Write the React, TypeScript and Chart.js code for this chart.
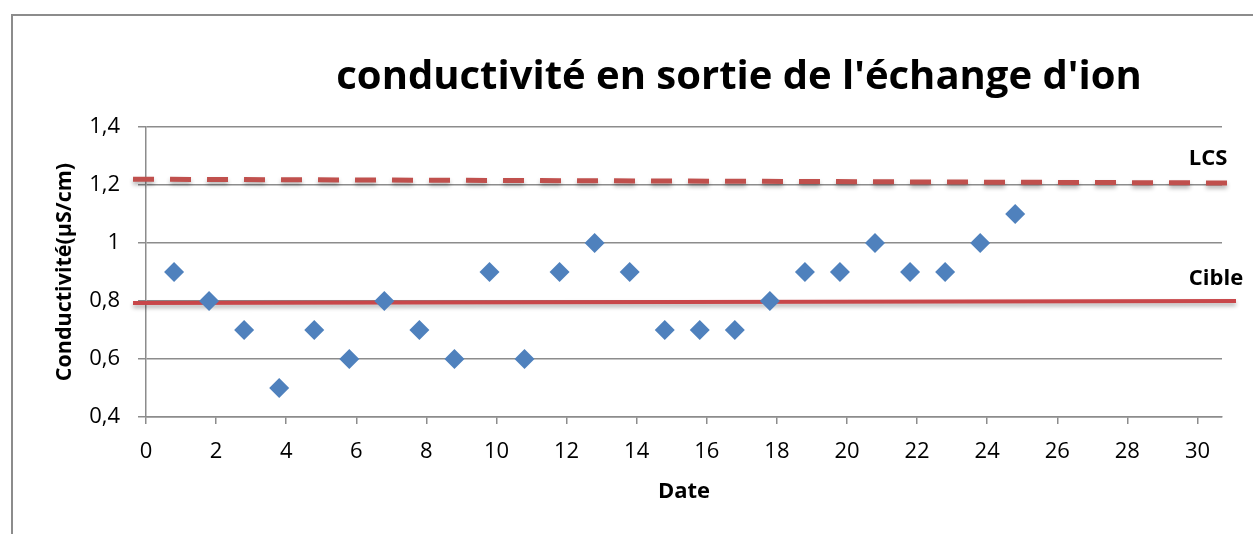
import { useEffect, useRef } from 'react';
import { Chart, registerables } from 'chart.js';

Chart.register(...registerables);

// ---- data ----
const dates = [0.8, 1.8, 2.8, 3.8, 4.8, 5.8, 6.8, 7.8, 8.8, 9.8, 10.8, 11.8, 12.8, 13.8, 14.8, 15.8, 16.8, 17.8, 18.8, 19.8, 20.8, 21.8, 22.8, 23.8, 24.8];
const conductivity = [0.9, 0.8, 0.7, 0.5, 0.7, 0.6, 0.8, 0.7, 0.6, 0.9, 0.6, 0.9, 1.0, 0.9, 0.7, 0.7, 0.7, 0.8, 0.9, 0.9, 1.0, 0.9, 0.9, 1.0, 1.1];
const lcsX = [-0.37, 30.85];
const lcsY = [1.22, 1.207];
const cibleX = [-0.37, 31.1];
const cibleY = [0.793, 0.8];
const xRange = [0, 30.7];
const yRange = [0.4, 1.4];
const xStep = 2;
const yStep = 0.2;

const TITLE = "conductivité en sortie de l'échange d'ion";
const X_TITLE = 'Date';
const Y_TITLE = 'Conductivité(µS/cm)';
const LCS_LABEL = 'LCS';
const CIBLE_LABEL = 'Cible';

const FONT = "'Open Sans', 'DejaVu Sans', sans-serif";

const fmt = (v: number) => String(Math.round(v * 10) / 10).replace('.', ',');

const overlay = {
  id: 'overlay',
  beforeDatasetDraw(chart: any, args: any) {
    if (args.index > 0) {
      const c = chart.ctx;
      c.save();
      c.shadowColor = 'rgba(0,0,0,0.3)';
      c.shadowBlur = 4;
      c.shadowOffsetY = 3;
    }
  },
  afterDatasetDraw(chart: any, args: any) {
    if (args.index > 0) chart.ctx.restore();
  },
  afterDraw(chart: any) {
    const c = chart.ctx;
    c.save();
    c.strokeStyle = '#8c8c8c';
    c.lineWidth = 2;
    c.beginPath();
    c.moveTo(12, 534);
    c.lineTo(12, 15);
    c.lineTo(1253, 15);
    c.stroke();

    c.fillStyle = '#000';
    c.textAlign = 'center';
    c.textBaseline = 'alphabetic';
    c.font = `bold 40px ${FONT}`;
    c.fillText(TITLE, 739, 89);
    c.font = `bold 22px ${FONT}`;
    c.fillText(LCS_LABEL, 1208, 165);
    c.fillText(CIBLE_LABEL, 1216, 285);
    c.restore();
  },
};

export default function App() {
  const ref = useRef<HTMLCanvasElement>(null);
  useEffect(() => {
    if (!ref.current) return;
    const chart = new Chart(ref.current, {
      type: 'scatter',
      data: {
        datasets: [
          {
            type: 'scatter',
            data: dates.map((d, i) => ({ x: d, y: conductivity[i] })),
            pointStyle: 'rectRot',
            pointRadius: 10,
            pointHoverRadius: 10,
            backgroundColor: '#4F81BD',
            borderColor: '#4F81BD',
            borderWidth: 0,
          },
          {
            type: 'line',
            data: lcsX.map((x, i) => ({ x, y: lcsY[i] })),
            borderColor: '#C0504D',
            borderWidth: 5,
            borderDash: [21, 16],
            pointRadius: 0,
            clip: false,
          } as any,
          {
            type: 'line',
            data: cibleX.map((x, i) => ({ x, y: cibleY[i] })),
            borderColor: '#C8474A',
            borderWidth: 4,
            pointRadius: 0,
            clip: false,
          } as any,
        ],
      },
      options: {
        animation: false,
        responsive: true,
        maintainAspectRatio: false,
        layout: { padding: { left: 0, right: 31, top: 127, bottom: 0 } },
        plugins: { legend: { display: false }, tooltip: { enabled: false }, title: { display: false } },
        events: [],
        scales: {
          x: {
            type: 'linear',
            min: xRange[0],
            max: xRange[1],
            afterFit: (s: any) => { s.height = 117; },
            ticks: { stepSize: xStep, includeBounds: false, color: '#000', font: { size: 22, family: FONT }, padding: 15, maxRotation: 0 },
            grid: { drawOnChartArea: false, drawTicks: true, tickLength: 7, color: '#8c8c8c', lineWidth: 1.5 },
            border: { display: true, color: '#8c8c8c', width: 1.5 },
            title: { display: true, text: X_TITLE, color: '#000', font: { size: 22, weight: 'bold', family: FONT }, padding: { top: 0, bottom: 29 } },
          },
          y: {
            type: 'linear',
            min: yRange[0],
            max: yRange[1],
            afterFit: (s: any) => { s.width = 146; },
            ticks: { stepSize: yStep, includeBounds: false, color: '#000', font: { size: 22, family: FONT }, padding: 18, callback: (v: any) => fmt(Number(v)) },
            grid: { drawTicks: true, tickLength: 8, color: '#8c8c8c', lineWidth: 1.5 },
            border: { display: true, color: '#8c8c8c', width: 1.5 },
            title: { display: true, text: Y_TITLE, color: '#000', font: { size: 21.5, weight: 'bold', family: FONT }, padding: { top: 52, bottom: 0 } },
          },
        },
      },
      plugins: [overlay],
    });
    return () => chart.destroy();
  }, []);
  return (
    <div style={{ position: 'fixed', left: 0, top: 0, width: 1253, height: 534, background: '#fff' }}>
      <canvas ref={ref} />
    </div>
  );
}
